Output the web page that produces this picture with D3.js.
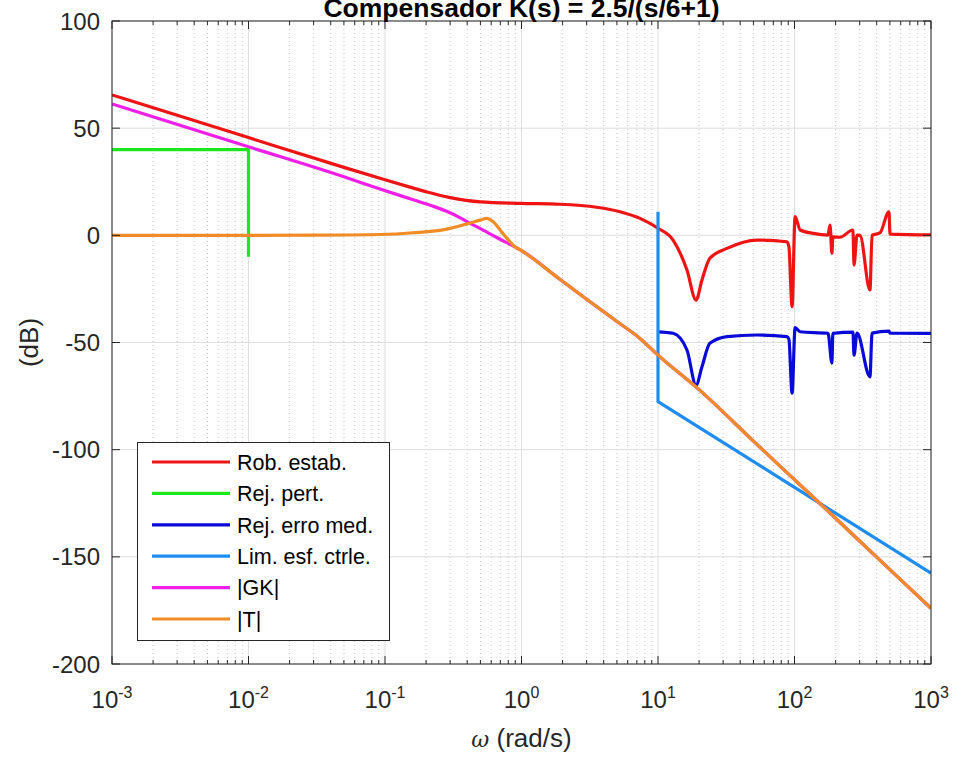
<!DOCTYPE html>
<html>
<head>
<meta charset="utf-8">
<script src="https://d3js.org/d3.v7.min.js"></script>
<style>
body { margin: 0; background: #fff; font-family: 'Liberation Sans', Arial, sans-serif; }
svg { display: block; }
</style>
</head>
<body>
<svg width="953" height="758"></svg>
<script>
// [omega (rad/s), magnitude (dB)]
var robEstab = [[0.001, 65.5], [0.01, 45.6], [0.05, 31.7], [0.1, 25.9], [0.15, 22.6], [0.2, 20.3],
  [0.3, 17.6], [0.5, 15.6], [0.99, 14.9], [1.91, 14.5], [3.55, 13.1], [5.27, 11.0], [7.38, 7.9], [10, 3.3],
  [12.9, -2.2], [16.3, -16.2], [19, -30.2], [21, -20.8], [24, -10.7], [32, -6.1], [53, -2.2],
  [88, -3.0], [91, -5.3], [96, -33.3], [101, 8.7], [110, 2.5], [137, 0.9], [176, 0.1], [182, 4.8],
  [188, -8.4], [191, -0.7], [215, -0.9], [268, 2.5], [273, -13.9], [287, 0.1], [302, 0],
  [357, -25.5], [370, 0], [423, 1.2], [492, 11], [501, 0.6], [1000, 0.2]];
var rejPert = [[0.001, 40], [0.01, 40], [0.01, -10]];
var rejErro = [[10, -45.0], [12.9, -45.7], [16.3, -53.5], [19, -69.9], [21, -61.3], [24, -50.4],
  [32, -47.3], [53, -46.5], [88, -47.3], [91, -48.5], [96, -73.6], [101, -43.1], [110, -45],
  [176, -45.7], [188, -59.6], [191, -45.7], [268, -45.2], [273, -55.9], [287, -45.6],
  [357, -66], [370, -45.6], [492, -44.7], [501, -45.6], [1000, -45.7]];
var limEsf = [[10, 11], [10, -77.6], [1000, -157.6]];
var gk = [[0.001, 61.3], [0.01, 41.3], [0.05, 27.3], [0.092, 21.6], [0.161, 16.6], [0.22, 13.8],
  [0.283, 11.2], [0.35, 8.4], [0.42, 5.6], [0.5, 3.1], [0.659, -1], [1.04, -7.8], [1.91, -20.5],
  [3, -29.8], [5, -40.2], [7.38, -48.1], [10, -55.9], [20, -72], [50, -96], [100, -114],
  [200, -132], [500, -156], [1000, -174]];
var tMag = [[0.001, 0], [0.01, 0], [0.03, 0.1], [0.092, 0.4], [0.161, 1.2], [0.283, 2.9],
  [0.397, 5.3], [0.497, 7.1], [0.556, 7.9], [0.62, 6.3], [0.73, 0.9], [0.869, -4.6], [1.04, -7.8],
  [1.91, -20.5], [3, -29.8], [5, -40.2], [7.38, -48.1], [10, -55.9], [20, -72], [50, -96],
  [100, -114], [200, -132], [500, -156], [1000, -174]];

var seriesNames = ["Rob. estab.", "Rej. pert.", "Rej. erro med.", "Lim. esf. ctrle.", "|GK|", "|T|"];
var seriesData = [robEstab, rejPert, rejErro, limEsf, gk, tMag];
var xTickExps = [-3, -2, -1, 0, 1, 2, 3];
var yTicks = [-200, -150, -100, -50, 0, 50, 100];
var titleText = "Compensador K(s) = 2.5/(s/6+1)";

var colors = ["#ee1414", "#1ee61e", "#0a0ad8", "#1e8cf0", "#f01ee6", "#f08c28"];
var stepSeries = [false, true, false, true, false, false];

var svg = d3.select("svg");
var L = 112, R = 931, T = 21, B = 664;
var axisColor = "#262626";

var x = d3.scaleLog().domain([1e-3, 1e3]).range([L, R]);
var y = d3.scaleLinear().domain([-200, 100]).range([B, T]);

svg.append("defs").append("clipPath").attr("id", "plotclip")
  .append("rect").attr("x", L).attr("y", T).attr("width", R - L).attr("height", B - T);

// minor x positions
var minorX = [];
for (var e = -3; e < 3; e++) {
  for (var m = 2; m <= 9; m++) minorX.push(m * Math.pow(10, e));
}
var majorX = xTickExps.map(function (d) { return Math.pow(10, d); });

var grid = svg.append("g");
grid.selectAll(".minor").data(minorX).enter().append("line")
  .attr("x1", function (d) { return x(d); }).attr("x2", function (d) { return x(d); })
  .attr("y1", T).attr("y2", B)
  .attr("stroke", "#c4c4c4").attr("stroke-width", 1).attr("stroke-dasharray", "1,3");
grid.selectAll(".majx").data(majorX).enter().append("line")
  .attr("x1", function (d) { return x(d); }).attr("x2", function (d) { return x(d); })
  .attr("y1", T).attr("y2", B)
  .attr("stroke", "#dedede").attr("stroke-width", 1);
grid.selectAll(".majy").data(yTicks).enter().append("line")
  .attr("x1", L).attr("x2", R)
  .attr("y1", function (d) { return y(d); }).attr("y2", function (d) { return y(d); })
  .attr("stroke", "#dedede").attr("stroke-width", 1);

// curves
var plot = svg.append("g").attr("clip-path", "url(#plotclip)");
seriesData.forEach(function (data, i) {
  var line = d3.line()
    .x(function (d) { return x(d[0]); })
    .y(function (d) { return y(d[1]); })
    .curve(stepSeries[i] ? d3.curveLinear : d3.curveMonotoneX);
  plot.append("path")
    .attr("d", line(data))
    .attr("fill", "none")
    .attr("stroke", colors[i])
    .attr("stroke-width", 3.2)
    .attr("stroke-linejoin", "round");
});

// box and ticks
var ax = svg.append("g");
ax.append("rect").attr("x", L).attr("y", T).attr("width", R - L).attr("height", B - T)
  .attr("fill", "none").attr("stroke", axisColor).attr("stroke-width", 1);

function vTicks(vals, len) {
  vals.forEach(function (v) {
    var px = x(v);
    ax.append("line").attr("x1", px).attr("x2", px).attr("y1", B).attr("y2", B - len)
      .attr("stroke", axisColor);
    ax.append("line").attr("x1", px).attr("x2", px).attr("y1", T).attr("y2", T + len)
      .attr("stroke", axisColor);
  });
}
vTicks(majorX, 8);
vTicks(minorX, 4);
yTicks.forEach(function (v) {
  var py = y(v);
  ax.append("line").attr("x1", L).attr("x2", L + 8).attr("y1", py).attr("y2", py).attr("stroke", axisColor);
  ax.append("line").attr("x1", R).attr("x2", R - 8).attr("y1", py).attr("y2", py).attr("stroke", axisColor);
});

// y tick labels
ax.selectAll(".ylab").data(yTicks).enter().append("text")
  .attr("x", L - 12)
  .attr("y", function (d) { return y(d) + 8.6; })
  .attr("text-anchor", "end")
  .attr("font-size", "24px")
  .attr("fill", axisColor)
  .text(function (d) { return d; });

// x tick labels 10^n
xTickExps.forEach(function (e) {
  var t = ax.append("text")
    .attr("x", x(Math.pow(10, e)))
    .attr("y", 708)
    .attr("text-anchor", "middle")
    .attr("font-size", "24px")
    .attr("fill", axisColor);
  t.append("tspan").text("10");
  t.append("tspan").attr("dy", -10).attr("font-size", "16px").text(e);
});

// axis labels
svg.append("text")
  .attr("x", (L + R) / 2).attr("y", 747)
  .attr("text-anchor", "middle").attr("font-size", "26px").attr("fill", axisColor)
  .html('<tspan font-family="DejaVu Serif" font-style="italic" font-size="22px">\u03c9</tspan> (rad/s)');

svg.append("text")
  .attr("transform", "translate(38," + ((T + B) / 2) + ") rotate(-90)")
  .attr("text-anchor", "middle").attr("font-size", "26px").attr("fill", axisColor)
  .text("(dB)");

svg.append("text")
  .attr("x", (L + R) / 2).attr("y", 17)
  .attr("text-anchor", "middle").attr("font-size", "26.5px").attr("font-weight", "bold")
  .attr("fill", "#000")
  .text(titleText);

// legend
var lg = svg.append("g");
lg.append("rect").attr("x", 137.5).attr("y", 442.5).attr("width", 252).attr("height", 198)
  .attr("fill", "#fff").attr("stroke", axisColor).attr("stroke-width", 1);
seriesNames.forEach(function (name, i) {
  var ry = 462 + i * 31.4;
  lg.append("line").attr("x1", 152).attr("x2", 230).attr("y1", ry).attr("y2", ry)
    .attr("stroke", colors[i]).attr("stroke-width", 3.2);
  lg.append("text").attr("x", 237).attr("y", ry + 7.7)
    .attr("font-size", "21.5px").attr("fill", "#000").text(name);
});
</script>
</body>
</html>
